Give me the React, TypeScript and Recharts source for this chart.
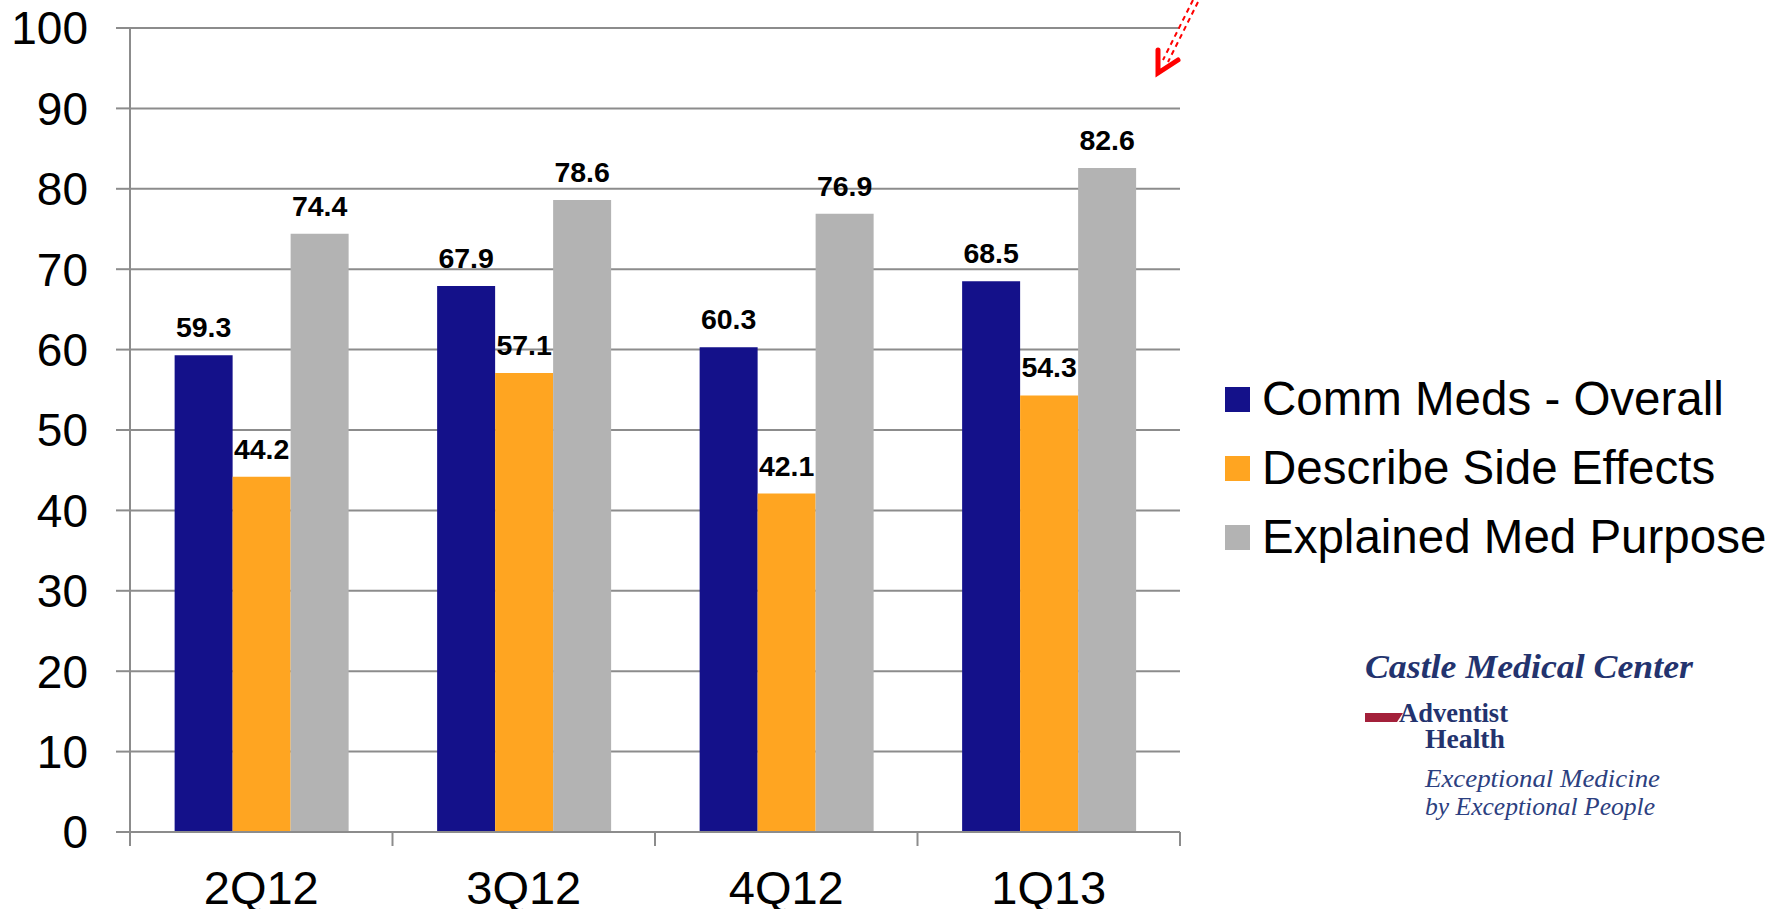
import React from "react";
import { BarChart, Bar, XAxis, YAxis, CartesianGrid, LabelList } from "recharts";

const categories = ["2Q12", "3Q12", "4Q12", "1Q13"];
const commMedsOverall = [59.3, 67.9, 60.3, 68.5];
const describeSideEffects = [44.2, 57.1, 42.1, 54.3];
const explainedMedPurpose = [74.4, 78.6, 76.9, 82.6];
const yTicks = [0, 10, 20, 30, 40, 50, 60, 70, 80, 90, 100];

const seriesNames = ["Comm Meds - Overall", "Describe Side Effects", "Explained Med Purpose"];
const seriesKeys = ["overall", "side", "purpose"];
const seriesColors = ["#14118a", "#ffa521", "#b3b3b3"];

const data = categories.map((c, i) => ({
  name: c,
  overall: commMedsOverall[i],
  side: describeSideEffects[i],
  purpose: explainedMedPurpose[i],
}));

const FONT = "'Liberation Sans', Arial, sans-serif";
const SERIF = "'Liberation Serif', 'Times New Roman', serif";
const GRID = "#8c8c8c";

const XTick = (props: any) => {
  const { x, y, payload } = props;
  const off = payload && payload.offset ? payload.offset : 0;
  const axisY = y - 14;
  const isLast = payload.value === categories[categories.length - 1];
  return (
    <g>
      <line x1={x - off} x2={x - off} y1={axisY} y2={axisY + 14} stroke={GRID} strokeWidth={2} />
      {isLast && <line x1={x + off} x2={x + off} y1={axisY} y2={axisY + 14} stroke={GRID} strokeWidth={2} />}
      <text x={x} y={axisY + 72} textAnchor="middle" fontSize={47} fontFamily={FONT} fill="#000">
        {payload.value}
      </text>
    </g>
  );
};

export default function App() {
  return (
    <div style={{ position: "absolute", left: 0, top: 0, width: 1789, height: 909, background: "#fff", fontFamily: FONT, overflow: "hidden" }}>
      <BarChart
        width={1789}
        height={909}
        data={data}
        margin={{ top: 28, right: 609, bottom: 0, left: 0 }}
        barGap={0}
        barCategoryGap="17%"
      >
        <CartesianGrid vertical={false} stroke={GRID} strokeWidth={2} />
        <XAxis
          dataKey="name"
          height={77}
          tickLine={false}
          tickSize={14}
          tickMargin={0}
          axisLine={{ stroke: GRID, strokeWidth: 2 }}
          tick={<XTick />}
          interval={0}
        />
        <YAxis
          width={130}
          domain={[0, 100]}
          ticks={yTicks}
          interval={0}
          tickSize={14}
          tickMargin={28}
          axisLine={{ stroke: GRID, strokeWidth: 2 }}
          tickLine={{ stroke: GRID, strokeWidth: 2 }}
          tick={{ fontSize: 46, fill: "#000", fontFamily: FONT }}
        />
        {seriesKeys.map((k, i) => (
          <Bar key={k} dataKey={k} name={seriesNames[i]} fill={seriesColors[i]} isAnimationActive={false}>
            <LabelList
              dataKey={k}
              position="top"
              offset={18}
              style={{ fontSize: 28.5, fontWeight: "bold", fill: "#000", fontFamily: FONT }}
            />
          </Bar>
        ))}
      </BarChart>

      {seriesNames.map((n, i) => (
        <div
          key={n}
          style={{
            position: "absolute",
            left: 1225,
            top: 399 + i * 69 - 28,
            height: 56,
            display: "flex",
            alignItems: "center",
            whiteSpace: "nowrap",
          }}
        >
          <div style={{ width: 25, height: 25, background: seriesColors[i], marginRight: 12 }} />
          <span style={{ fontSize: 47.5, fontFamily: FONT, color: "#000", lineHeight: "56px" }}>{n}</span>
        </div>
      ))}

      <svg style={{ position: "absolute", left: 0, top: 0 }} width={1789} height={909}>
        {/* red dashed arrow */}
        <line x1={1193} y1={0} x2={1163} y2={60} stroke="#ff0000" strokeWidth={2} strokeDasharray="5 4" />
        <line x1={1198} y1={2} x2={1168} y2={62} stroke="#ff0000" strokeWidth={2} strokeDasharray="5 4" />
        <polyline points="1158,50 1158,73 1178,60" fill="none" stroke="#ff0000" strokeWidth={5} strokeLinecap="round" strokeLinejoin="miter" />

        {/* logo */}
        <text x={1365} y={678} fontFamily={SERIF} fontStyle="italic" fontWeight="bold" fontSize={33} fill="#23336e" textLength={328} lengthAdjust="spacingAndGlyphs">
          Castle Medical Center
        </text>
        <polygon points="1365,713 1403,713 1397,722 1365,722" fill="#a3203a" />
        <text x={1399} y={722} fontFamily={SERIF} fontWeight="bold" fontSize={27} fill="#23336e" textLength={109} lengthAdjust="spacingAndGlyphs">
          Adventist
        </text>
        <text x={1425} y={748} fontFamily={SERIF} fontWeight="bold" fontSize={27} fill="#23336e" textLength={80} lengthAdjust="spacingAndGlyphs">
          Health
        </text>
        <text x={1425} y={787} fontFamily={SERIF} fontStyle="italic" fontSize={25} fill="#2c4080" textLength={235} lengthAdjust="spacingAndGlyphs">
          Exceptional Medicine
        </text>
        <text x={1425} y={815} fontFamily={SERIF} fontStyle="italic" fontSize={25} fill="#2c4080" textLength={230} lengthAdjust="spacingAndGlyphs">
          by Exceptional People
        </text>
      </svg>
    </div>
  );
}
